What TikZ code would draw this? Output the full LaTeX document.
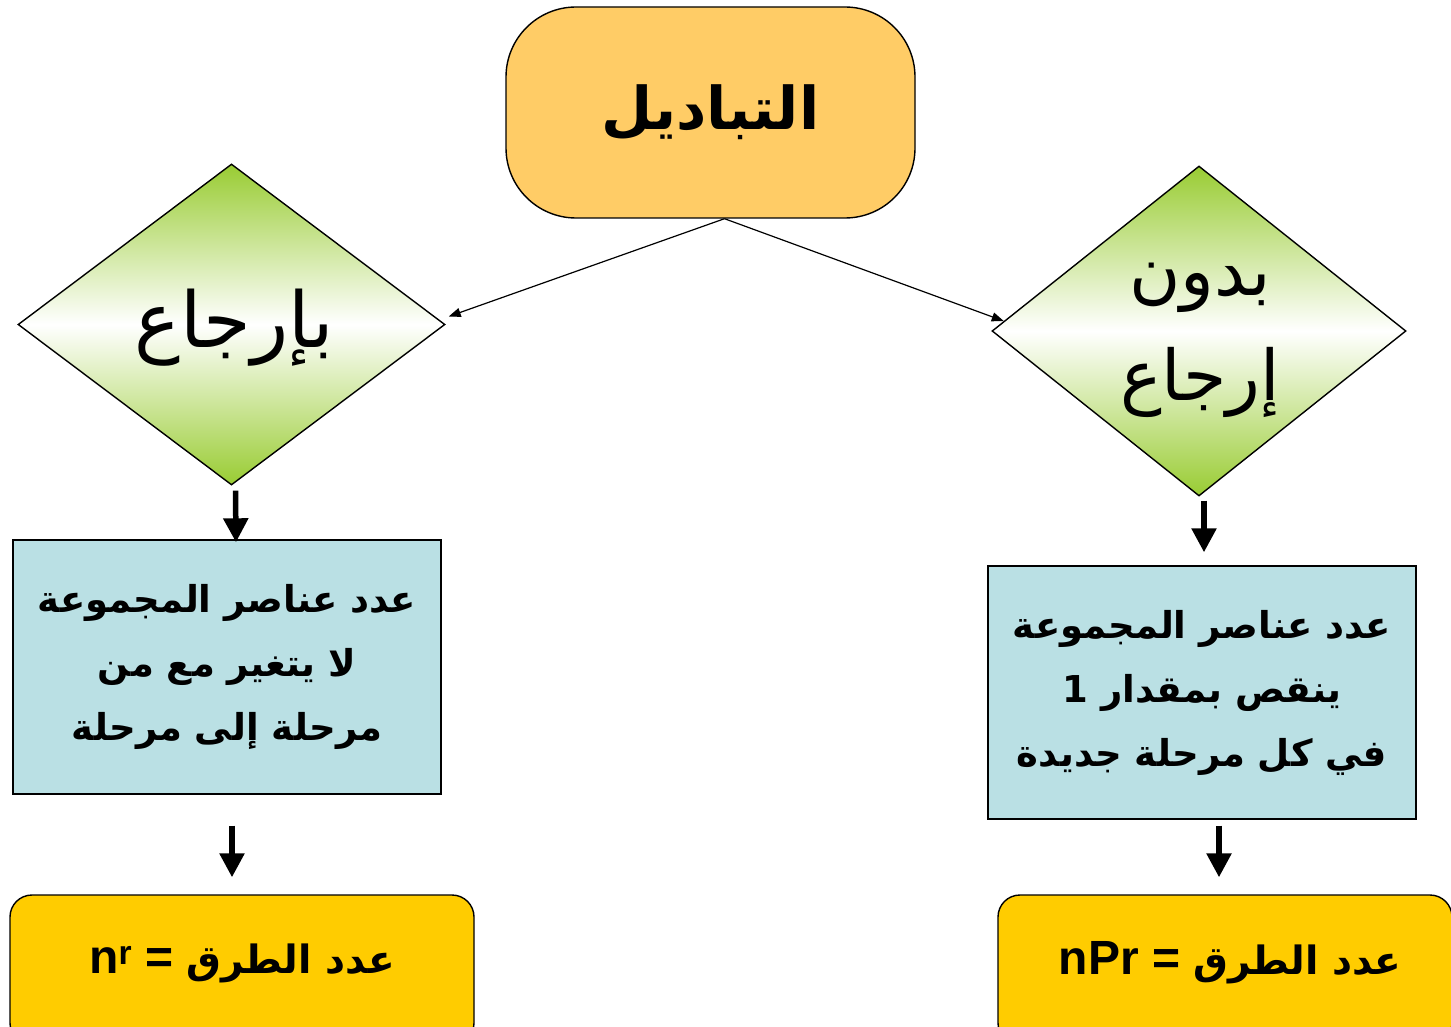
\documentclass[tikz,border=0pt]{standalone}
\usepackage{fontspec}
\setmainfont{Liberation Sans}
\newfontfamily\arabicfont[Script=Arabic]{DejaVu Sans}
\TeXXeTstate=1
\usetikzlibrary{shapes.geometric,arrows.meta,calc}

\definecolor{titlefill}{RGB}{255,204,102}
\definecolor{choicegreen}{RGB}{153,204,51}
\definecolor{notefill}{RGB}{186,224,228}
\definecolor{resultfill}{RGB}{255,204,0}

% Arabic part of the result lines
\newcommand\resultfontar{\arabicfont\bfseries\fontsize{39}{44}\selectfont}

\begin{document}
\begin{tikzpicture}[x=1pt,y=-1pt,
  outline/.style={draw=black,line width=1.4pt},
  titlebox/.style={outline,fill=titlefill,rounded corners=70pt,
    minimum width=409pt,minimum height=211pt,inner sep=0pt},
  choice/.style={diamond,outline,inner sep=0pt,
    top color=choicegreen,bottom color=choicegreen,middle color=white},
  choicetext/.style={font=\arabicfont\fontsize{70}{105}\selectfont,
    align=center,inner sep=0pt},
  notebox/.style={outline,fill=notefill,minimum width=428pt,
    minimum height=254pt,align=center,inner sep=0pt,
    font=\arabicfont\bfseries\fontsize{37}{64}\selectfont},
  resultbox/.style={outline,fill=resultfill,rounded corners=22pt,
    minimum height=150pt,inner sep=0pt},
  resulttext/.style={inner sep=0pt,font=\bfseries\fontsize{48}{54}\selectfont},
  thinarrow/.style={-{Triangle[length=12pt,width=9pt]},line width=1.2pt},
  fatarrow/.style={-{Triangle[length=24pt,width=24pt]},line width=5.5pt},
]
\useasboundingbox (0,0) rectangle (1451,1027);
\fill[white] (0,0) rectangle (1451,1027);

% heading
\node[titlebox] (title) at (710.5,112.5)
  {\arabicfont\bfseries\fontsize{59}{64}\selectfont\beginR التباديل\endR};

% the two cases
\node[choice,minimum width=427pt,minimum height=321pt] (lchoice)
  at (231.5,324.5) {};
\node[choicetext,font=\arabicfont\fontsize{77}{105}\selectfont] (ltext)
  at (234,328) {\beginR بإرجاع\endR};
\node[choice,minimum width=414pt,minimum height=330pt] (rchoice)
  at (1199,331) {};
\node[choicetext] (rtext) at (1200,340)
  {\beginR بدون\endR\\\beginR إرجاع\endR};

% explanations
\node[notebox,minimum width=428pt] (lnote) at (227,667)
  {\beginR عدد عناصر المجموعة\endR\\
   \beginR لا يتغير مع من\endR\\
   \beginR مرحلة إلى مرحلة\endR};
\node[notebox,minimum height=253pt] (rnote) at (1202,692.5)
  {\beginR عدد عناصر المجموعة\endR\\
   \beginR ينقص بمقدار 1\endR\\
   \beginR في كل مرحلة جديدة\endR};

% results
\node[resultbox,minimum width=464pt] (lres) at (242,970) {};
\node[resulttext] (lrestext) at (242,963)
  {n\textsuperscript{r} = {\resultfontar\beginR عدد الطرق\endR}};
\node[resultbox,minimum width=454pt] (rres) at (1225,970) {};
\node[resulttext] (rrestext) at (1230,963)
  {nPr = {\resultfontar\beginR عدد الطرق\endR}};

% connectors
\coordinate (fork) at ([xshift=14pt]title.south);
\draw[thinarrow] (fork) -- ([xshift=3pt,yshift=8pt]lchoice.east);
\draw[thinarrow] (fork) -- ($(rchoice.west)!0.06!(rchoice.north)$);

\draw[fatarrow] ([xshift=4pt,yshift=-5pt]lchoice.south)
  -- ([xshift=9pt,yshift=-3pt]lnote.north);
\draw[fatarrow] ([xshift=5pt,yshift=-31pt]lnote.south)
  -- ([xshift=-10pt,yshift=17pt]lres.north);
\draw[fatarrow] ([xshift=5pt,yshift=-4pt]rchoice.south)
  -- ([xshift=2pt,yshift=13pt]rnote.north);
\draw[fatarrow] ([xshift=17pt,yshift=-6pt]rnote.south)
  -- ([xshift=-6pt,yshift=17pt]rres.north);
\end{tikzpicture}
\end{document}
